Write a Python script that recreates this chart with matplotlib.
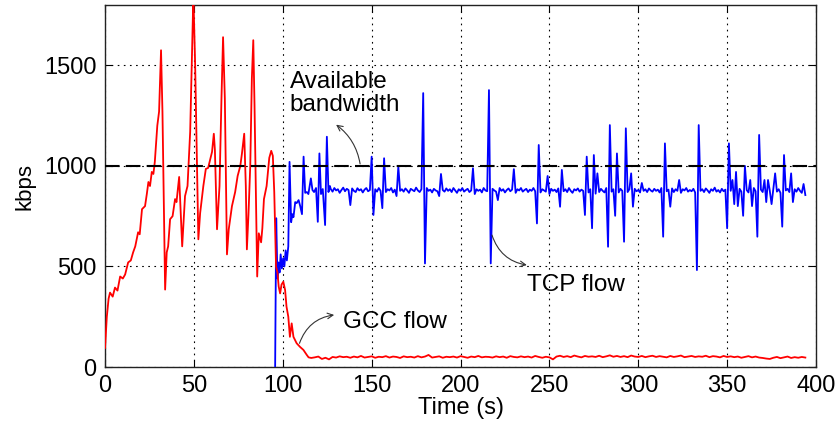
import numpy as np
import matplotlib
matplotlib.use('Agg')
import matplotlib.pyplot as plt

plt.rcParams['font.family'] = ['Liberation Sans', 'DejaVu Sans']

# GCC flow (red): detailed start, then a flat tail sampled every 2 s
gcc_head_t = [0, 1, 2, 2.8, 4.3, 5.6, 7, 8.5, 10, 11.3, 13, 14.5, 15.8, 17, 18.6, 19.5, 20.8, 22.5,
              23.5, 24.4, 25.3, 26.3, 27.2, 28, 29.4, 30.4, 31.5, 32.3, 33.8, 34.7, 35.5, 36.6, 38,
              39.4, 40.2, 41.7, 43.4, 45, 46.4, 47.9, 49.7, 50.7, 52.5, 53.5, 55.3, 56.7, 58, 60.2,
              61.2, 61.8, 63, 64.4, 65.5, 66.4, 67.4, 68.6, 69.6, 71.4, 73.2, 74.6, 76.1, 77, 78.3,
              79.2, 79.8, 80.7, 81.7, 82.6, 83.4, 84.1, 85.6, 86.5, 87.8, 88.5, 89.4, 90.9, 92.4,
              93.5, 94.4, 95.2, 96.2, 97, 97.7, 98.5, 99.3, 100.3, 101.3, 102.1, 103.1, 104, 105,
              106, 107.8, 109.7, 111.6, 113.5, 114.5]
gcc_head_v = [95, 250, 340, 370, 350, 395, 380, 450, 440, 460, 520, 530, 570, 600, 670, 660, 785, 800,
              860, 920, 900, 970, 960, 1020, 1200, 1270, 1575, 1270, 385, 570, 600, 735, 750,
              835, 820, 945, 600, 850, 900, 1170, 1850, 1500, 635, 765, 900, 985, 990, 1070,
              1160, 1080, 685, 900, 1335, 1640, 1335, 560, 685, 800, 870, 950, 1000, 1060, 1160,
              900, 585, 760, 1000, 1435, 1625, 1300, 450, 665, 620, 690, 835, 900, 1040,
              1075, 1050, 870, 500, 470, 400, 366, 410, 424, 383, 300, 250, 150, 217,
              150, 118, 100, 85, 60, 48]
gcc_tail_start = 116
gcc_tail_v = [45, 48, 52, 40, 46, 38, 50, 47, 53, 49,
              51, 46, 52, 48, 55, 47, 50, 53, 46, 51,
              49, 54, 47, 52, 50, 45, 53, 49, 51, 47,
              54, 48, 52, 60, 47, 50, 53, 46, 51, 49,
              52, 47, 54, 50, 46, 52, 49, 55, 48, 51,
              50, 47, 53, 49, 52, 46, 54, 50, 48, 53,
              49, 52, 47, 55, 50, 46, 51, 48, 38, 52,
              56, 50, 54, 49, 57, 52, 48, 55, 51, 53,
              50, 56, 49, 53, 58, 51, 55, 50, 54, 49,
              57, 52, 50, 55, 49, 53, 56, 50, 54, 51,
              48, 55, 50, 53, 57, 49, 52, 55, 50, 53,
              51, 56, 49, 54, 52, 48, 55, 50, 53, 49,
              52, 46, 50, 54, 48, 52, 47, 45, 42, 40,
              46, 50, 44, 48, 52, 45, 49, 46, 50, 47]

# TCP flow (blue): start-up part, then one sample per second
tcp_head_t = [95.7, 96.3, 97.0, 97.6, 98.2, 98.8, 99.5, 100.2, 100.9, 101.6, 102.3, 103.1, 103.8,
              104.7, 105.4, 106.0, 107.0, 107.8, 108.9, 109.8, 110.8, 111.7, 112.6, 113.5, 114.4,
              115.8, 116.7, 117.6, 118.7, 119.7, 120.6, 121.5, 122.5, 123.8, 124.8, 125.7, 126.5]
tcp_head_v = [0, 740, 440, 520, 470, 560, 490, 540, 500, 580, 530, 600, 1020,
              720, 760, 745, 820, 815, 830, 800, 760, 1046, 866, 870, 860,
              938, 880, 870, 890, 722, 1062, 860, 885, 706, 1145, 870, 900]
tcp_tail_start = 127
tcp_tail_v = [885, 872, 890, 878, 884, 866, 880, 892, 874, 886,
              880, 805, 888, 876, 870, 889, 878, 884, 868, 882,
              890, 874, 880, 1046, 756, 884, 872, 890, 876, 790,
              1038, 870, 884, 878, 890, 868, 882, 850, 996, 876,
              884, 872, 888, 878, 866, 886, 880, 874, 892, 878,
              870, 884, 1362, 515, 890, 876, 882, 868, 886, 878,
              874, 850, 960, 880, 872, 888, 876, 884, 870, 890,
              878, 866, 884, 876, 890, 872, 880, 886, 870, 878,
              988, 860, 884, 876, 882, 868, 890, 878, 874, 1377,
              515, 886, 878, 872, 830, 890, 876, 884, 868, 880,
              888, 874, 882, 984, 866, 884, 878, 890, 872, 880,
              886, 870, 882, 876, 890, 874, 714, 1104, 868, 884,
              878, 872, 950, 860, 886, 876, 882, 870, 888, 797,
              980, 874, 884, 870, 890, 876, 866, 884, 878, 888,
              872, 882, 876, 756, 1046, 868, 884, 690, 1054, 862,
              963, 870, 886, 876, 868, 890, 598, 1203, 872, 884,
              752, 1062, 868, 886, 876, 623, 1187, 870, 884, 963,
              797, 886, 874, 880, 868, 915, 876, 884, 870, 888,
              878, 872, 886, 876, 882, 868, 890, 648, 1112, 874,
              882, 797, 888, 870, 884, 876, 930, 866, 884, 878,
              890, 872, 880, 874, 886, 868, 482, 1203, 876, 884,
              870, 888, 878, 866, 884, 876, 892, 872, 880, 868,
              886, 874, 882, 690, 1112, 876, 930, 810, 970, 800,
              886, 872, 752, 1000, 880, 868, 930, 800, 890, 874,
              648, 1154, 882, 870, 930, 820, 930, 876, 810, 888,
              963, 872, 884, 866, 698, 1054, 878, 886, 870, 963,
              820, 884, 872, 890, 876, 866, 910, 855]

available_bw = 1000

gcc_t = np.concatenate([gcc_head_t, gcc_tail_start + 2 * np.arange(len(gcc_tail_v))])
gcc_v = np.concatenate([gcc_head_v, gcc_tail_v])
tcp_t = np.concatenate([tcp_head_t, tcp_tail_start + np.arange(len(tcp_tail_v))])
tcp_v = np.concatenate([tcp_head_v, tcp_tail_v])

fig = plt.figure(figsize=(8.39, 4.29), dpi=100)
ax = fig.add_axes([0.1252, 0.1445, 0.8474, 0.8438])

ax.plot(tcp_t, tcp_v, color='#0000ff', lw=1.3, zorder=3)
ax.plot(gcc_t, gcc_v, color='#ff0000', lw=1.3, zorder=4)
ax.axhline(available_bw, color='black', lw=1.5, linestyle=(0, (7, 3)), zorder=5)

ax.set_xlim(0, 400)
ax.set_ylim(0, 1800)
ax.set_xticks([0, 50, 100, 150, 200, 250, 300, 350, 400])
ax.set_yticks([0, 500, 1000, 1500])
ax.grid(True, color='black', linestyle=(0, (1.5, 4)), lw=0.8)
ax.tick_params(direction='in', length=5, labelsize=17, top=True, right=True, pad=6)
for s in ax.spines.values():
    s.set_linewidth(1.0)
    s.set_color('#222222')

ax.set_xlabel('Time (s)', fontsize=17, labelpad=0)
ax.set_ylabel('kbps', fontsize=16, labelpad=6)

arrow_kw = dict(arrowstyle='->', color='#333333', lw=0.8, shrinkA=0, shrinkB=0)
ax.text(104, 1360, 'Available\nbandwidth', fontsize=17.5, va='center', ha='left', linespacing=1.05)
ax.annotate('', xy=(130, 1205), xytext=(143.5, 1010),
            arrowprops=dict(connectionstyle='arc3,rad=0.2', **arrow_kw))
ax.text(237.5, 408, 'TCP flow', fontsize=17.5, va='center', ha='left')
ax.annotate('', xy=(237.3, 507), xytext=(217.7, 656),
            arrowprops=dict(connectionstyle='arc3,rad=0.3', **arrow_kw))
ax.text(134, 224, 'GCC flow', fontsize=17.5, va='center', ha='left')
ax.annotate('', xy=(128.9, 259), xytext=(109.4, 118),
            arrowprops=dict(connectionstyle='arc3,rad=-0.3', **arrow_kw))

fig.savefig('out.png', dpi=100)
